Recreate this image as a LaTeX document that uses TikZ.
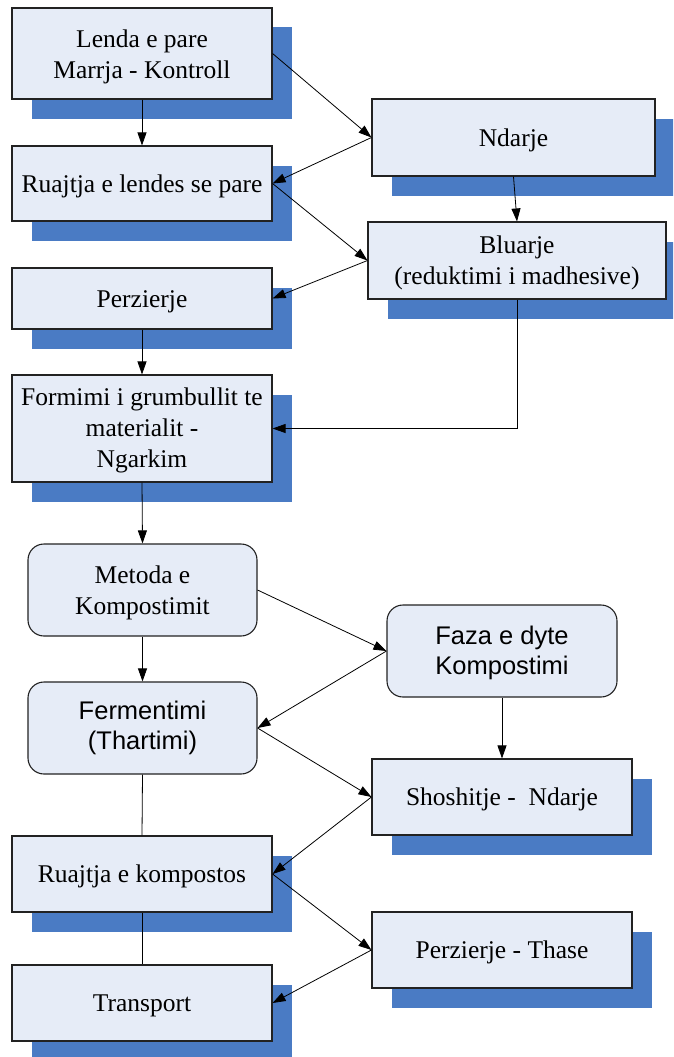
\documentclass[tikz,border=0pt]{standalone}
\usepackage{fontspec}
\setmainfont{Liberation Serif}
\newfontfamily\arialf{Liberation Sans}
\usetikzlibrary{arrows.meta,shadows}
\definecolor{boxfill}{HTML}{E6ECF7}
\definecolor{shadowc}{HTML}{4A7BC4}
\definecolor{edgec}{HTML}{222222}
\newcommand{\tstrut}{\rule{0pt}{23pt}}
\begin{document}
\begin{tikzpicture}[x=1pt,y=-1pt,
  every node/.style={font=\fontsize{25.5}{31}\selectfont, align=center},
  box/.style={draw=edgec, line width=1.1pt, fill=boxfill, inner sep=0pt,
    drop shadow={shadow xshift=19.5pt, shadow yshift=-19.5pt, fill=shadowc, opacity=1}},
  rbox/.style={draw=edgec, line width=1.1pt, fill=boxfill, rounded corners=16pt, inner sep=0pt},
  sans/.style={font=\arialf\fontsize{25.5}{30}\selectfont},
  arr/.style={draw=black, line width=0.8pt, -{Triangle[length=13pt,width=9pt]}},
  ln/.style={draw=black, line width=0.8pt}]
\useasboundingbox (0,0) rectangle (673,1057);
\clip (0,0) rectangle (673,1057);
% left column (upper)
\node[box, minimum width=260pt, minimum height=91pt] (n1) at (142,53.5) {\rule{0pt}{25pt}Lenda e pare\\Marrja - Kontroll};
\node[box, minimum width=260pt, minimum height=75pt] (n2) at (142,183.5) {\tstrut Ruajtja e lendes se pare};
\node[box, minimum width=260pt, minimum height=61pt] (n3) at (142,298.5) {\tstrut Perzierje};
\node[box, minimum width=260pt, minimum height=107pt] (n4) at (142,428.5) {\rule{0pt}{22pt}Formimi i grumbullit te\\materialit -\\Ngarkim};
% right column (upper)
\node[box, minimum width=283pt, minimum height=77pt] (nd) at (513.5,137.5) {\tstrut Ndarje};
\node[box, minimum width=298pt, minimum height=77pt] (bl) at (517,260.5) {\tstrut Bluarje\\(reduktimi i madhesive)};
% lower part
\node[rbox, minimum width=229pt, minimum height=92pt] (me) at (142.5,590) {\tstrut Metoda e\\Kompostimit};
\node[rbox, sans, minimum width=230pt, minimum height=92pt] (fa) at (502,651) {\rule{0pt}{22pt}Faza e dyte\\Kompostimi};
\node[rbox, sans, minimum width=229pt, minimum height=92pt] (fe) at (142.5,728) {Fermentimi\\(Thartimi)};
\node[box, minimum width=260pt, minimum height=76pt] (sh) at (502,797) {\tstrut Shoshitje -\ \ Ndarje};
\node[box, minimum width=260pt, minimum height=76pt] (rk) at (142,874) {\tstrut Ruajtja e kompostos};
\node[box, minimum width=260pt, minimum height=76pt] (th) at (502,950) {\tstrut Perzierje - Thase};
\node[box, minimum width=260pt, minimum height=76pt] (tr) at (142,1003) {\tstrut Transport};
% connectors
\draw[arr] (n1.south) -- (n2.north);
\draw[arr] (n1.east) -- (nd.west);
\draw[arr] (nd.west) -- (n2.east);
\draw[arr] (n2.east) -- (bl.west);
\draw[arr] (bl.west) -- (n3.east);
\draw[arr] (nd.south) -- (bl.north);
\draw[arr] (n3.south) -- (n4.north);
\draw[arr] (bl.south) |- (n4.east);
\draw[arr] (n4.south) -- (me.north);
\draw[arr] (me.east) -- (fa.west);
\draw[arr] (fa.west) -- (fe.east);
\draw[arr] (me.south) -- (fe.north);
\draw[arr] (fa.south) -- (sh.north);
\draw[arr] (fe.east) -- (sh.west);
\draw[ln] (fe.south) -- (rk.north);
\draw[arr] (sh.west) -- (rk.east);
\draw[arr] (rk.east) -- (th.west);
\draw[ln] (rk.south) -- (tr.north);
\draw[arr] (th.west) -- (tr.east);
\end{tikzpicture}
\end{document}
